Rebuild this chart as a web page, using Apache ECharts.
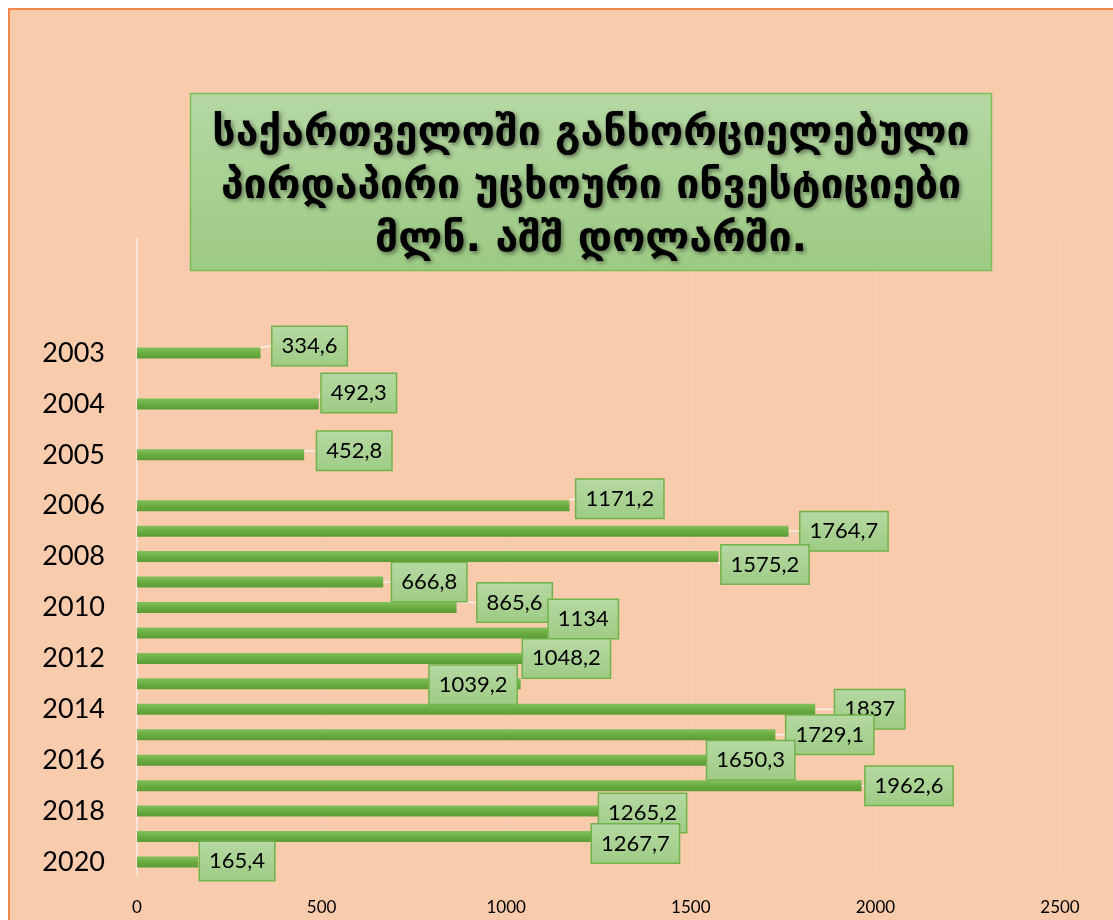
<!DOCTYPE html>
<html><head><meta charset="utf-8">
<script src="https://cdn.jsdelivr.net/npm/echarts@6/dist/echarts.min.js"></script>
<style>
html,body{margin:0;padding:0;background:#fff;overflow:hidden;}
#bg{position:absolute;left:8px;top:8px;width:1200px;height:1000px;background:#F8CBAD;border-top:2px solid #F0894A;border-left:2px solid #F0894A;}
#chart{position:absolute;left:0;top:0;width:1113px;height:920px;}
</style></head><body>
<div id="bg"></div><div id="chart"></div>
<script>
const titleLines = [
  'საქართველოში განხორციელებული',
  'პირდაპირი უცხოური ინვესტიციები',
  'მლნ. აშშ დოლარში.'
];
const categories = ['', '', '', '', '2003', '', '2004', '', '2005', '', '2006', '2007', '2008', '2009', '2010', '2011', '2012', '2013', '2014', '2015', '2016', '2017', '2018', '2019', '2020'];
const values = [null, null, null, null, 334.6, null, 492.3, null, 452.8, null, 1171.2, 1764.7, 1575.2, 666.8, 865.6, 1134, 1048.2, 1039.2, 1837, 1729.1, 1650.3, 1962.6, 1265.2, 1267.7, 165.4];
const xMin = 0, xMax = 2500, xStep = 500;

// label nudges (style only), keyed by year: [dx, dy]
const labelNudge = {
  '2003': [12, -7], '2004': [3, -11], '2005': [13, -4], '2006': [7, -7],
  '2007': [12, 0], '2008': [3, 8], '2009': [9, 0], '2010': [21, -5],
  '2011': [-7, -14], '2012': [-1, 0], '2013': [-91, 1], '2014': [20, 0],
  '2015': [11, 0], '2016': [-39, 0], '2017': [4, 0], '2018': [-5, 2],
  '2019': [-13, 7], '2020': [2, -1]
};

const chart = echarts.init(document.getElementById('chart'), null, {renderer: 'canvas'});
const G = echarts.graphic;
chart.setOption({
  backgroundColor: 'transparent',
  animation: false,
  grid: {left: 137, right: 53, top: 238.5, bottom: 45.3, containLabel: false},
  xAxis: {
    type: 'value', min: xMin, max: xMax, interval: xStep,
    axisLine: {show: false}, axisTick: {show: false},
    splitLine: {show: true, lineStyle: {color: 'rgba(255,255,255,0.12)', width: 1}},
    axisLabel: {color: '#000', fontFamily: 'Lato', fontSize: 17, margin: 24, formatter: v => String(v)}
  },
  yAxis: {
    type: 'category', inverse: true, data: categories,
    axisTick: {show: false},
    axisLine: {show: true, lineStyle: {color: 'rgba(255,255,255,0.6)', width: 1.5}},
    axisLabel: {interval: 1, color: '#000', fontFamily: 'Lato', fontSize: 27, margin: 32}
  },
  series: [{
    type: 'bar',
    data: values,
    barWidth: 11,
    itemStyle: {
      color: new G.LinearGradient(0, 0, 0, 1, [
        {offset: 0, color: '#82c15c'},
        {offset: 0.45, color: '#6cae44'},
        {offset: 1, color: '#5c9b34'}
      ])
    },
    label: {
      show: true, position: 'right', distance: 0,
      formatter: p => p.value == null ? '' : String(p.value).replace('.', ','),
      color: '#000', fontFamily: 'Lato', fontSize: 22, lineHeight: 26,
      verticalAlign: 'middle',
      padding: [6, 9, 6, 9],
      backgroundColor: new G.LinearGradient(0, 0, 0, 1, [
        {offset: 0, color: '#b6d9a3'},
        {offset: 1, color: '#9ecb84'}
      ]),
      borderColor: '#72b24a', borderWidth: 1.5
    },
    labelLine: {show: true, lineStyle: {color: 'rgba(255,255,255,0.7)', width: 1.5}},
    labelLayout: function (params) {
      const n = labelNudge[categories[params.dataIndex]];
      return n ? {dx: n[0], dy: n[1]} : {};
    }
  }],
  graphic: [
    {
      type: 'rect', z: 10,
      shape: {x: 190.5, y: 93.5, width: 801, height: 177},
      style: {
        fill: new G.LinearGradient(0, 0, 0, 1, [
          {offset: 0, color: '#b5d8a3'},
          {offset: 1, color: '#9dca83'}
        ]),
        stroke: '#7cbd5a', lineWidth: 1.5
      }
    },
    {
      type: 'text', z: 11, x: 591, y: 187,
      style: {
        text: titleLines.join('\n'),
        font: 'bold 41px "DejaVu Sans"',
        fill: '#000', align: 'center', verticalAlign: 'middle', lineHeight: 53,
        textShadowColor: 'rgba(0,0,0,0.45)', textShadowBlur: 4,
        textShadowOffsetX: 2, textShadowOffsetY: 2
      }
    }
  ]
});
</script>
</body></html>
